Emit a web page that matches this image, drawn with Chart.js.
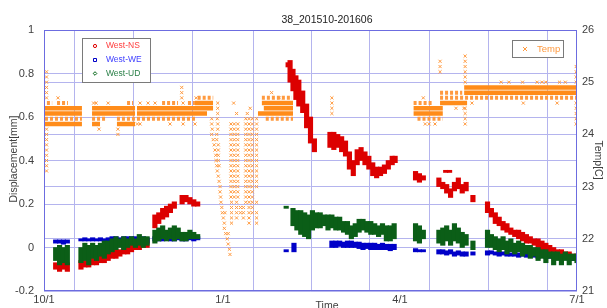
<!DOCTYPE html>
<html>
<head>
<meta charset="utf-8">
<script src="https://cdn.jsdelivr.net/npm/chart.js@4.4.1/dist/chart.umd.min.js"></script>
<style>
  body { margin: 0; background: #fff; }
  #wrap { width: 607px; height: 308px; }
</style>
</head>
<body>
<div id="wrap"><canvas id="chart" width="607" height="308"></canvas></div>
<script>
// x axis is days since 10/1 (2015-10-01 .. 2016-07-01)
const monthTicks = [0, 31, 61, 92, 123, 152, 183, 213, 244, 274];
const xTickLabels = ['10/1', '', '', '1/1', '', '', '4/1', '', '', '7/1'];

// displacement: [day, low, high] in mm
const nsData = [
    [6, -0.10, -0.07], [8, -0.11, -0.07], [10, -0.10, -0.06], [12, -0.11, -0.07],
    [19, -0.10, -0.06], [21, -0.09, -0.06], [23, -0.09, -0.05], [25, -0.08, -0.05], [27, -0.08, -0.05],
    [29, -0.07, -0.04], [31, -0.07, -0.04], [33, -0.06, -0.03], [35, -0.05, -0.02], [37, -0.05, -0.01],
    [39, -0.04, -0.01], [41, -0.03, 0.00], [43, -0.03, 0.01], [45, -0.02, 0.01], [47, -0.01, 0.02],
    [49, -0.01, 0.03], [51, 0.00, 0.03], [53, 0.00, 0.04],
    [57, 0.09, 0.15], [59, 0.11, 0.16], [61, 0.13, 0.18], [63, 0.14, 0.19], [65, 0.16, 0.20], [67, 0.18, 0.21],
    [71, 0.20, 0.24], [73, 0.21, 0.24], [75, 0.20, 0.23], [77, 0.19, 0.22], [79, 0.19, 0.21],
    [125.5, 0.83, 0.85], [126.5, 0.76, 0.86], [128, 0.72, 0.82], [129.5, 0.68, 0.79], [131, 0.65, 0.77],
    [133, 0.62, 0.72], [135, 0.55, 0.66], [137, 0.48, 0.60], [139, 0.44, 0.50],
    [147, 0.46, 0.53], [149, 0.45, 0.53], [151, 0.46, 0.52], [153, 0.44, 0.51], [155, 0.42, 0.49],
    [157, 0.36, 0.44], [159, 0.33, 0.40], [161, 0.38, 0.45], [163, 0.40, 0.46], [165, 0.38, 0.44],
    [167, 0.36, 0.42], [169, 0.33, 0.39], [171, 0.32, 0.37], [173, 0.33, 0.37], [175, 0.34, 0.38],
    [177, 0.36, 0.40], [179, 0.38, 0.42], [180.5, 0.39, 0.42],
    [191, 0.31, 0.35], [193, 0.30, 0.34], [195, 0.31, 0.33],
    [203, 0.28, 0.32], [205, 0.27, 0.30], [206.5, 0.345, 0.355], [207, 0.25, 0.29], [208.5, 0.345, 0.355],
    [209, 0.23, 0.27], [211, 0.26, 0.30], [213, 0.27, 0.32], [215, 0.25, 0.29], [217, 0.26, 0.30],
    [220.5, 0.21, 0.24],
    [228, 0.16, 0.21], [230, 0.14, 0.18], [232, 0.11, 0.16], [234, 0.10, 0.14], [236, 0.08, 0.12],
    [238, 0.07, 0.11], [240, 0.06, 0.09], [242, 0.05, 0.08], [244, 0.04, 0.08], [246, 0.03, 0.07],
    [248, 0.02, 0.06], [250, 0.02, 0.05], [252, 0.01, 0.04], [254, 0.00, 0.04], [256, -0.01, 0.03],
    [258, -0.01, 0.02], [260, -0.02, 0.01], [262, -0.03, 0.00], [264, -0.03, -0.01], [266, -0.04, -0.01],
    [268, -0.04, -0.02], [270, -0.05, -0.02], [272, -0.05, -0.03], [274, -0.06, -0.03]
];

const weData = [
    [6, 0.02, 0.035], [8, 0.02, 0.035], [10, 0.015, 0.035], [12, 0.02, 0.035],
    [19, 0.03, 0.04], [21, 0.03, 0.045], [23, 0.03, 0.04], [25, 0.03, 0.045], [27, 0.03, 0.04],
    [29, 0.03, 0.045], [31, 0.03, 0.04], [33, 0.03, 0.045], [35, 0.03, 0.05], [37, 0.03, 0.05],
    [39, 0.02, 0.045], [41, 0.03, 0.05], [43, 0.03, 0.05], [45, 0.02, 0.05], [47, 0.03, 0.05],
    [49, 0.03, 0.045], [51, 0.03, 0.05], [53, 0.02, 0.045],
    [57, 0.03, 0.05], [59, 0.03, 0.045], [61, 0.03, 0.05], [63, 0.035, 0.05], [65, 0.03, 0.045],
    [67, 0.03, 0.05], [69, 0.035, 0.05], [71, 0.03, 0.05], [73, 0.03, 0.045], [75, 0.035, 0.05],
    [77, 0.03, 0.05], [79, 0.035, 0.05],
    [124.5, -0.02, -0.01], [128.5, -0.02, 0.02],
    [148, 0.00, 0.03], [150, 0.00, 0.03], [152, 0.005, 0.03], [154, 0.00, 0.025], [156, 0.00, 0.03],
    [158, 0.00, 0.03], [160, 0.00, 0.025], [162, -0.005, 0.025], [164, -0.01, 0.02], [166, -0.005, 0.02],
    [168, -0.01, 0.02], [170, -0.01, 0.02], [172, -0.01, 0.015], [174, -0.01, 0.02], [176, -0.01, 0.015],
    [178, -0.015, 0.015], [180, -0.01, 0.015],
    [191, -0.02, -0.005], [193, -0.02, -0.01], [195, -0.02, -0.01],
    [203, -0.03, -0.01], [205, -0.03, -0.01], [207, -0.035, -0.015], [209, -0.03, -0.01], [211, -0.04, -0.02],
    [213, -0.035, -0.015], [215, -0.04, -0.02], [217, -0.04, -0.02], [220.5, -0.035, -0.02],
    [228, -0.035, -0.015], [230, -0.03, -0.015], [232, -0.035, -0.02], [234, -0.04, -0.02], [236, -0.035, -0.02],
    [238, -0.04, -0.02], [240, -0.04, -0.025], [242, -0.04, -0.02], [244, -0.045, -0.025], [246, -0.04, -0.025],
    [248, -0.045, -0.025], [250, -0.04, -0.03], [252, -0.045, -0.03], [254, -0.05, -0.03], [256, -0.045, -0.03],
    [258, -0.05, -0.03], [260, -0.05, -0.035], [262, -0.05, -0.03], [264, -0.055, -0.035], [266, -0.05, -0.035],
    [268, -0.055, -0.035], [270, -0.055, -0.04], [272, -0.06, -0.04], [274, -0.06, -0.04]
];

const udData = [
    [6, -0.06, 0.00], [8, -0.08, 0.01], [10, -0.07, 0.00], [12, -0.08, 0.01],
    [19, -0.07, 0.00], [21, -0.06, 0.02], [23, -0.08, 0.01], [25, -0.05, 0.02], [27, -0.06, 0.01],
    [29, -0.04, 0.02], [31, -0.05, 0.03], [33, -0.03, 0.03], [35, -0.02, 0.04], [37, -0.01, 0.05],
    [39, 0.00, 0.04], [41, -0.01, 0.05], [43, 0.00, 0.04], [45, 0.01, 0.05], [47, 0.00, 0.04],
    [49, 0.01, 0.06], [51, 0.00, 0.05], [53, 0.01, 0.05],
    [57, 0.02, 0.08], [59, 0.03, 0.09], [61, 0.04, 0.10], [63, 0.03, 0.08], [65, 0.04, 0.09],
    [67, 0.03, 0.10], [69, 0.04, 0.09], [71, 0.03, 0.07], [73, 0.03, 0.07], [75, 0.04, 0.08],
    [77, 0.04, 0.07], [79, 0.04, 0.06],
    [124.5, 0.18, 0.19], [128, 0.10, 0.18], [130, 0.08, 0.17], [132, 0.06, 0.17], [134, 0.05, 0.16],
    [136, 0.04, 0.15], [138, 0.08, 0.17], [140, 0.09, 0.16], [142, 0.09, 0.16], [144, 0.10, 0.15],
    [146, 0.08, 0.15], [148, 0.09, 0.15], [150, 0.08, 0.14], [152, 0.08, 0.14], [154, 0.07, 0.12],
    [156, 0.06, 0.12], [158, 0.04, 0.10], [160, 0.05, 0.11], [162, 0.07, 0.13], [164, 0.08, 0.13],
    [166, 0.07, 0.12], [168, 0.06, 0.12], [170, 0.06, 0.11], [172, 0.05, 0.10], [174, 0.06, 0.11],
    [176, 0.03, 0.10], [178, 0.03, 0.10], [180, 0.04, 0.11],
    [191, 0.03, 0.11], [193, 0.02, 0.10], [195, 0.04, 0.08],
    [203, 0.02, 0.08], [205, 0.01, 0.09], [207, 0.03, 0.10], [209, 0.01, 0.08], [211, 0.03, 0.11],
    [213, 0.02, 0.09], [215, 0.00, 0.07], [217, 0.01, 0.06], [220.5, -0.01, 0.03],
    [228, 0.00, 0.08], [230, 0.00, 0.06], [232, -0.01, 0.05], [234, -0.02, 0.04], [236, -0.01, 0.05],
    [238, -0.03, 0.03], [240, -0.02, 0.04], [242, -0.03, 0.02], [244, -0.02, 0.03], [246, -0.04, 0.02],
    [248, -0.03, 0.01], [250, -0.05, 0.01], [252, -0.04, 0.00], [254, -0.06, 0.00], [256, -0.05, -0.01],
    [258, -0.07, -0.01], [260, -0.05, -0.02], [262, -0.08, -0.02], [264, -0.06, -0.02], [266, -0.08, -0.03],
    [268, -0.06, -0.02], [270, -0.08, -0.03], [272, -0.06, -0.03], [274, -0.07, -0.03]
];

// temperature rows: [tempC, fromDay, toDay]
const tempSolid = [
    [24.5, 0.5, 19.5], [24.4, 0.5, 19.5], [24.2, 0.5, 19.5],
    [24.5, 24.7, 46.8], [24.4, 24.7, 46.8], [24.2, 24.7, 28.8], [24.2, 37.5, 46.8],
    [24.5, 47.8, 86.9], [24.4, 47.8, 83.8], [24.6, 77.6, 86.9],
    [24.6, 112, 128], [24.5, 113, 128], [24.4, 110, 128],
    [24.5, 190, 205], [24.4, 190, 205],
    [24.6, 203.6, 217.5], [24.9, 216, 274], [24.8, 216, 274]
];
const tempDotted = [
    [24.3, 0.5, 19.5], [24.6, 1.5, 4.2], [24.6, 6.7, 12.3],
    [24.3, 24.7, 32.4], [24.3, 37.5, 46.8], [24.6, 42.7, 45.8],
    [24.3, 47.8, 78.6], [24.6, 60.7, 68.9], [24.6, 74, 77.6], [24.7, 79, 87],
    [24.7, 112, 127.5], [24.3, 114, 128],
    [24.6, 190, 200], [24.3, 192, 205],
    [24.8, 203.6, 215], [24.7, 203.6, 274]
];
// single readings: [day, tempC]
const tempMarks = [
    [7.2, 24.7], [25.5, 24.6], [26.8, 24.6], [33, 24.6], [28.3, 24.1], [38, 24.1], [38, 24.0],
    [49.4, 24.6], [53.5, 24.6], [57.1, 24.6], [71.5, 24.6],
    [48, 24.2], [49.4, 24.2], [64.8, 24.2], [71.5, 24.2], [77.6, 24.2],
    [70.8, 24.9], [70.8, 24.8], [70.8, 24.7], [78.2, 24.7],
    [86.2, 24.3], [89.1, 24.3], [86.2, 24.2], [89.3, 24.2], [86.5, 24.1], [89.3, 24.1],
    [86.2, 24.0], [88.8, 24.0], [87.0, 23.9], [88.8, 23.9], [87.5, 23.8], [89.6, 23.8],
    [87.9, 23.7], [89.6, 23.7], [88.3, 23.6], [89.6, 23.6], [88.4, 23.5], [89.6, 23.5],
    [88.8, 23.4], [90.0, 23.4], [89.1, 23.3], [89.6, 23.2], [90.0, 23.1], [90.5, 23.0],
    [90.5, 22.9], [90.8, 22.8], [91.0, 22.7], [91.4, 22.6], [91.7, 22.5], [93.0, 22.5],
    [92.2, 22.4], [92.7, 22.3], [92.7, 22.2], [93.4, 22.1], [94.7, 22.1], [94.2, 22.0],
    [94.7, 21.9], [95.3, 21.8], [95.6, 21.7],
    [89.3, 24.6], [89.3, 24.5], [89.3, 24.4],
    [97.5, 24.6], [99, 24.4], [104.5, 24.4], [106, 24.5], [121, 24.7], [117, 24.8],
    [195, 24.7], [196, 24.2], [198, 24.2], [201, 24.2],
    [220, 24.6], [246.4, 24.6], [263.8, 24.6], [211.8, 24.5], [215.9, 24.5],
    [235, 25.0], [239, 25.0], [246, 25.0], [253.5, 25.0], [256, 25.0], [258, 25.0], [265, 25.0], [268, 25.0]
];
// stacked readings at one time: [day, [tempC...]]
const tempCols = [
    [1.3, [25.2, 25.1, 25.0, 24.9, 24.8, 24.7, 24.1, 24.0, 23.9, 23.8, 23.7, 23.6, 23.5, 23.4, 23.3]],
    [96.1, [24.2, 24.1, 24.0, 23.9, 23.8, 23.7, 23.6, 23.5, 23.4, 23.3, 23.2, 23.1, 23.0, 22.9, 22.8]],
    [97.8, [24.2, 24.1, 24.0, 23.9, 23.8, 23.7, 23.6, 23.5, 23.4, 23.3, 23.2, 23.1, 23.0, 22.9, 22.8]],
    [99.6, [24.2, 24.1, 24.0, 23.9, 23.8, 23.7, 23.6, 23.5, 23.4, 23.3, 23.2, 23.1, 23.0, 22.9, 22.8]],
    [96.4, [22.7, 22.6, 22.5, 22.4, 22.3]],
    [99.0, [22.7, 22.6, 22.5, 22.4]],
    [101.0, [22.6, 22.5]],
    [103.7, [24.3, 24.2, 24.1, 24.0, 23.9, 23.8, 23.7, 23.6, 23.5, 23.4, 23.3, 23.2, 23.1, 23.0, 22.9, 22.8, 22.7]],
    [105.4, [24.3, 24.2, 24.1, 24.0, 23.9, 23.8, 23.7, 23.6, 23.5, 23.4, 23.3, 23.2, 23.1, 23.0, 22.9, 22.8, 22.7, 22.6, 22.5, 22.4, 22.3]],
    [107.1, [24.3, 24.2, 24.1, 24.0, 23.9, 23.8, 23.7, 23.6, 23.5, 23.4, 23.3, 23.2, 23.1, 23.0, 22.9, 22.8, 22.7, 22.6, 22.5]],
    [109.3, [24.3, 24.2, 24.1, 24.0, 23.9, 23.8, 23.7, 23.6, 23.5, 23.4, 23.3, 23.2, 23.1, 23.0, 22.7, 22.5, 22.4, 22.3]],
    [102.5, [22.6, 22.5, 22.4]],
    [148, [24.7, 24.6, 24.5, 24.4]],
    [203.6, [25.4, 25.3, 25.2]],
    [216.5, [25.5, 25.4, 25.3, 25.2, 25.1, 25.0, 24.5, 24.4, 24.3, 24.2]],
    [273.6, [25.3, 25.2, 25.1, 25.0, 24.6, 24.5, 24.4, 24.3, 24.2]]
];

const gridColor = '#b4b4ee';
const axisColor = '#6c6ce0';
const tickColor = '#404040';
const fontFamily = '"Liberation Sans", Arial, sans-serif';

function bars(rows) {
    return rows.map(r => ({ x: r[0], y: [r[1], r[2]] }));
}

function runs(rows) {
    var out = [];
    rows.forEach(r => {
        out.push({ x: r[1], y: r[0] }, { x: r[2], y: r[0] }, { x: r[2], y: null });
    });
    return out;
}

var markPoints = tempMarks.map(m => ({ x: m[0], y: m[1] }));
tempCols.forEach(c => {
    c[1].forEach(t => markPoints.push({ x: c[0], y: t }));
});

function marker(ctx, kind, x, y, color) {
    ctx.strokeStyle = color;
    ctx.lineWidth = 1;
    ctx.beginPath();
    if (kind === 'circle') {
        ctx.arc(x, y, 1.6, 0, Math.PI * 2);
    } else if (kind === 'rect') {
        ctx.rect(x - 1.5, y - 1.5, 3, 3);
    } else if (kind === 'diamond') {
        ctx.moveTo(x, y - 1.8); ctx.lineTo(x + 1.8, y); ctx.lineTo(x, y + 1.8); ctx.lineTo(x - 1.8, y); ctx.closePath();
    } else {
        ctx.moveTo(x - 2, y - 2); ctx.lineTo(x + 2, y + 2);
        ctx.moveTo(x + 2, y - 2); ctx.lineTo(x - 2, y + 2);
    }
    ctx.stroke();
}

const frame = {
    id: 'frame',
    afterDraw(chart) {
        const ctx = chart.ctx;
        const a = chart.chartArea;
        ctx.save();
        ctx.strokeStyle = axisColor;
        ctx.lineWidth = 1;
        ctx.strokeRect(Math.round(a.left) + 0.5, Math.round(a.top) + 0.5,
            Math.round(a.right - a.left) - 1, Math.round(a.bottom - a.top) - 1);

        ctx.fillStyle = '#222';
        ctx.textAlign = 'center';
        ctx.textBaseline = 'middle';
        ctx.font = '10.5px ' + fontFamily;
        ctx.fillText('38_201510-201606', 327, 20);

        ctx.fillStyle = tickColor;
        ctx.textBaseline = 'top';
        ctx.fillText('Time', 327, 301);

        ctx.textBaseline = 'middle';
        ctx.save();
        ctx.translate(14, 159);
        ctx.rotate(-Math.PI / 2);
        ctx.fillText('Displacement[mm]', 0, 0);
        ctx.restore();
        ctx.save();
        ctx.translate(598, 160);
        ctx.rotate(Math.PI / 2);
        ctx.fillText('Temp[C]', 0, 0);
        ctx.restore();

        // legend boxes
        ctx.fillStyle = '#fff';
        ctx.fillRect(82, 38, 68, 44);
        ctx.strokeStyle = '#7a7a7a';
        ctx.strokeRect(82.5, 38.5, 68, 44);
        ctx.fillRect(512, 40, 51, 17);
        ctx.strokeRect(512.5, 40.5, 51, 17);

        const entries = [
            ['West-NS', 'circle', '#e00000', '#ff4040', 46],
            ['West-WE', 'rect', '#0000c8', '#4040ff', 60],
            ['West-UD', 'diamond', '#006414', '#2a8048', 73.5]
        ];
        ctx.textAlign = 'left';
        ctx.font = '8.5px ' + fontFamily;
        entries.forEach(e => {
            marker(ctx, e[1], 95, e[4], e[2]);
            ctx.fillStyle = e[3];
            ctx.fillText(e[0], 106, e[4]);
        });
        marker(ctx, 'cross', 525, 49, '#ff9a40');
        ctx.fillStyle = '#ff9a40';
        ctx.font = '9.5px ' + fontFamily;
        ctx.fillText('Temp', 537, 49);
        ctx.restore();
    }
};

var ctx = document.getElementById('chart').getContext('2d');
new Chart(ctx, {
    type: 'scatter',
    data: {
        datasets: [{
            type: 'bar',
            label: 'West-UD',
            data: bars(udData),
            backgroundColor: '#0b5e17',
            barThickness: 4.5,
            grouped: false,
            yAxisID: 'y',
            order: 1
        }, {
            type: 'bar',
            label: 'West-WE',
            data: bars(weData),
            backgroundColor: '#0000c8',
            barThickness: 4.5,
            grouped: false,
            yAxisID: 'y',
            order: 2
        }, {
            type: 'bar',
            label: 'West-NS',
            data: bars(nsData),
            backgroundColor: '#dc0000',
            barThickness: 4.5,
            grouped: false,
            yAxisID: 'y',
            order: 3
        }, {
            type: 'line',
            label: 'Temp',
            data: runs(tempSolid),
            borderColor: '#ff8c1a',
            borderWidth: 4.5,
            borderCapStyle: 'butt',
            pointRadius: 0,
            showLine: true,
            spanGaps: false,
            yAxisID: 'y2',
            order: 4
        }, {
            type: 'line',
            label: 'Temp',
            data: runs(tempDotted),
            borderColor: '#ff9a40',
            borderWidth: 4,
            borderDash: [3, 2],
            borderCapStyle: 'butt',
            pointRadius: 0,
            showLine: true,
            spanGaps: false,
            yAxisID: 'y2',
            order: 5
        }, {
            label: 'Temp',
            data: markPoints,
            pointStyle: 'crossRot',
            pointRadius: 2.2,
            borderColor: '#ff9a40',
            borderWidth: 1,
            yAxisID: 'y2',
            order: 6
        }]
    },
    options: {
        responsive: false,
        animation: false,
        layout: { padding: { top: 30 } },
        plugins: {
            legend: { display: false },
            tooltip: { enabled: false }
        },
        scales: {
            x: {
                type: 'linear',
                min: 0,
                max: 274,
                offset: false,
                afterBuildTicks: s => { s.ticks = monthTicks.map(v => ({ value: v })); },
                afterFit: s => { s.height = 17; },
                ticks: {
                    autoSkip: false,
                    maxRotation: 0,
                    padding: 2,
                    color: tickColor,
                    font: { family: fontFamily, size: 11 },
                    callback: (v, i) => xTickLabels[i]
                },
                grid: { color: gridColor, drawTicks: false },
                border: { display: false }
            },
            y: {
                type: 'linear',
                position: 'left',
                min: -0.2,
                max: 1,
                afterFit: s => { s.width = 44; },
                ticks: {
                    stepSize: 0.2,
                    padding: 10,
                    color: tickColor,
                    font: { family: fontFamily, size: 11 },
                    callback: v => String(Math.round(v * 10) / 10)
                },
                grid: { color: gridColor, drawTicks: false },
                border: { display: false }
            },
            y2: {
                type: 'linear',
                position: 'right',
                min: 21,
                max: 26,
                afterFit: s => { s.width = 30; },
                ticks: {
                    stepSize: 1,
                    padding: 5,
                    color: tickColor,
                    font: { family: fontFamily, size: 11 }
                },
                grid: { color: gridColor, drawTicks: false },
                border: { display: false }
            }
        }
    },
    plugins: [frame]
});
</script>
</body>
</html>
